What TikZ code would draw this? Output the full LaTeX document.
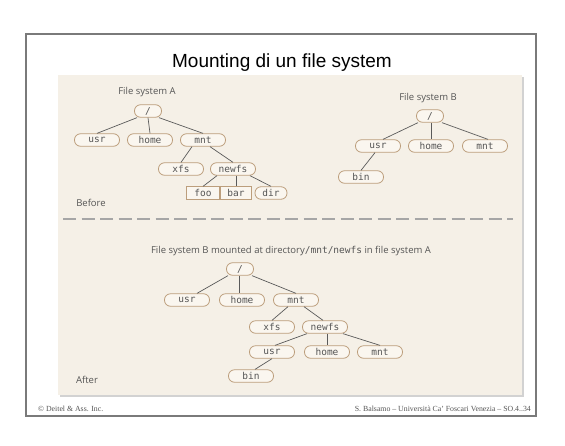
\documentclass[tikz,border=0pt]{standalone}
\usepackage{fontspec}
\setmainfont{Liberation Serif}
\newfontfamily\titlefont{Liberation Sans}
\newfontfamily\labelfont{Open Sans}
\newfontfamily\dirfont{DejaVu Sans Mono}
\definecolor{panel}{HTML}{F5F0E7}
\definecolor{nodefill}{HTML}{FAF6EF}
\definecolor{nodeborder}{HTML}{BC9E7C}
\definecolor{dirtext}{HTML}{555555}
\definecolor{linkcol}{HTML}{5A5A5A}
\definecolor{framecol}{HTML}{7A7A7A}

\begin{document}
\begin{tikzpicture}[x=1pt,y=-1pt,
  dirbox/.style={draw=nodeborder,fill=nodefill,line width=0.8pt,rounded corners=6pt,
    minimum width=45pt,minimum height=12.5pt,inner sep=0pt,text=dirtext,
    font=\dirfont\fontsize{9.5}{10}\selectfont},
  rootbox/.style={dirbox,minimum width=27pt},
  filebox/.style={dirbox,rounded corners=0pt,minimum width=32pt},
  smallbox/.style={dirbox,minimum width=32pt},
  link/.style={draw=linkcol,line width=0.7pt},
  fslabel/.style={text=dirtext,inner sep=0pt,font=\labelfont\fontsize{9.5}{11}\selectfont}]

\useasboundingbox (0,0) rectangle (565,445);
\fill[white] (0,0) rectangle (565,445);
\draw[framecol,line width=1.1pt] (26,34) rectangle (536,416);
\node[inner sep=0pt,font=\titlefont\fontsize{19}{22}\selectfont] (title) at (282,63) {Mounting di un file system};

\fill[gray!35] (60,77) rectangle (524,397);
\fill[panel] (58,75) rectangle (522,395);

\node[fslabel] (labela) at (147,92) {File system A};
\node[rootbox] (aroot) at (148,111) {/};
\node[dirbox] (ausr) at (97,140) {usr};
\node[dirbox] (ahome) at (150,140) {home};
\node[dirbox] (amnt) at (203,140) {mnt};
\node[dirbox] (axfs) at (181,169) {xfs};
\node[dirbox] (anewfs) at (233,169) {newfs};
\node[filebox,minimum width=33pt] (afoo) at (203,193) {foo};
\node[filebox,minimum width=31pt] (abar) at (236,193) {bar};
\node[smallbox] (adir) at (271,193) {dir};
\draw[link] ([xshift=-11pt]aroot.south) -- (ausr.north);
\draw[link] (aroot.south) -- (ahome.north);
\draw[link] ([xshift=11pt]aroot.south) -- (amnt.north);
\draw[link] ([xshift=-11pt]amnt.south) -- (axfs.north);
\draw[link] ([xshift=7pt]amnt.south) -- (anewfs.north);
\draw[link] ([xshift=-16pt]anewfs.south) -- (afoo.north);
\draw[link] ([xshift=3pt]anewfs.south) -- (abar.north);
\draw[link] ([xshift=17pt]anewfs.south) -- (adir.north);

\node[fslabel] (labelb) at (428,98) {File system B};
\node[rootbox] (broot) at (430,116) {/};
\node[dirbox] (busr) at (378,146) {usr};
\node[dirbox] (bhome) at (431,146) {home};
\node[dirbox] (bmnt) at (485,146) {mnt};
\node[dirbox] (bbin) at (361,177) {bin};
\draw[link] ([xshift=-12pt]broot.south) -- ([xshift=5pt]busr.north);
\draw[link] ([xshift=1pt]broot.south) -- (bhome.north);
\draw[link] ([xshift=12pt]broot.south) -- ([xshift=3pt]bmnt.north);
\draw[link] ([xshift=-3pt]busr.south) -- (bbin.north);

\node[fslabel] (before) at (91,203) {Before};
\draw[gray!70,line width=1.3pt,dash pattern=on 13pt off 5.5pt] (63,219) -- (513,219);

\node[fslabel] (labelc) at (291,251) {File system B mounted at directory{\dirfont/mnt/newfs} in file system A};
\node[rootbox] (croot) at (240,269) {/};
\node[dirbox] (cusr) at (187,300) {usr};
\node[dirbox] (chome) at (242,300) {home};
\node[dirbox] (cmnt) at (296,300) {mnt};
\node[dirbox] (cxfs) at (272,327) {xfs};
\node[dirbox] (cnewfs) at (325,327) {newfs};
\node[dirbox] (cusrb) at (272,352) {usr};
\node[dirbox] (chomeb) at (327,352) {home};
\node[dirbox] (cmntb) at (380,352) {mnt};
\node[dirbox] (cbin) at (251,376) {bin};
\draw[link] ([xshift=-12pt]croot.south) -- ([xshift=10pt]cusr.north);
\draw[link] ([xshift=-1pt]croot.south) -- ([xshift=-3pt]chome.north);
\draw[link] ([xshift=12pt]croot.south) -- (cmnt.north);
\draw[link] ([xshift=-8pt]cmnt.south) -- (cxfs.north);
\draw[link] ([xshift=8pt]cmnt.south) -- ([xshift=-2pt]cnewfs.north);
\draw[link] ([xshift=-18pt]cnewfs.south) -- ([xshift=3pt]cusrb.north);
\draw[link] ([xshift=2pt]cnewfs.south) -- (chomeb.north);
\draw[link] ([xshift=18pt]cnewfs.south) -- (cmntb.north);
\draw[link] (cusrb.south) -- ([xshift=4pt]cbin.north);

\node[fslabel] (after) at (87,380) {After};

\node[anchor=west,inner sep=0pt,font=\fontsize{7.8}{9}\selectfont,text=dirtext] (copy) at (38,409) {\textcopyright{} Deitel \& Ass. Inc.};
\node[anchor=east,inner sep=0pt,font=\fontsize{7.8}{9}\selectfont,text=dirtext] (credit) at (531,409) {S. Balsamo -- Università Ca' Foscari Venezia -- SO.4..34};
\end{tikzpicture}
\end{document}
